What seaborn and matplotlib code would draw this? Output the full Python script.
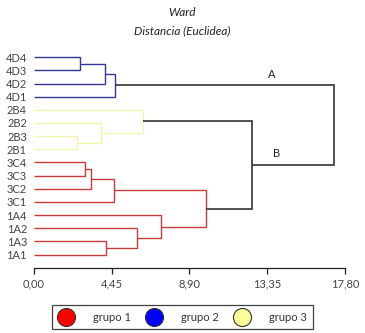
import matplotlib
matplotlib.use("Agg")
import matplotlib.pyplot as plt
from matplotlib.lines import Line2D
import seaborn as sns

# leaves, top to bottom
leaves = ['4D4', '4D3', '4D2', '4D1', '2B4', '2B2', '2B3', '2B1',
          '3C4', '3C3', '3C2', '3C1', '1A4', '1A2', '1A3', '1A1']

# merges (scipy style: new cluster ids start at len(leaves))
merge_a = [0, 16, 17, 6, 5, 4, 8, 22, 23, 14, 13, 12, 24, 21, 18]
merge_b = [1, 2, 3, 7, 19, 20, 9, 10, 11, 15, 25, 26, 27, 28, 29]
merge_h = [2.64, 4.04, 4.65, 2.45, 3.85, 6.24, 2.93, 3.25, 4.59,
           4.13, 5.90, 7.29, 9.82, 12.46, 17.15]
merge_grp = ['g2', 'g2', 'g2', 'g3', 'g3', 'g3', 'g1', 'g1', 'g1',
             'g1', 'g1', 'g1', 'g1', 'top', 'top']

tick_vals = [0, 4.45, 8.90, 13.35, 17.80]
tick_labels = ['0,00', '4,45', '8,90', '13,35', '17,80']

group_names = ['grupo 1', 'grupo 2', 'grupo 3']
group_fill = ['#ff0000', '#0000ff', '#ffff99']
line_col = {'g1': '#c83c3c', 'g2': '#34349c', 'g3': '#f4f4b0', 'top': '#333333'}

sns.set_style("white")
plt.rcParams['font.family'] = ['Lato', 'DejaVu Sans']

fig = plt.figure(figsize=(3.65, 3.33), dpi=100)
ax = fig.add_axes([0.093, 0.196, 0.852, 0.654])

pos = {i: (0.0, float(i)) for i in range(len(leaves))}
n = len(leaves)
for k, (a, b, h, g) in enumerate(zip(merge_a, merge_b, merge_h, merge_grp)):
    ha, ya = pos[a]
    hb, yb = pos[b]
    lw = 1.2 if g == 'top' else 1.0
    ax.plot([ha, h, h, hb], [ya, ya, yb, yb], color=line_col[g], lw=lw,
            solid_joinstyle='miter', solid_capstyle='butt')
    pos[n + k] = (h, (ya + yb) / 2)

# labels A and B
ax.text(13.6, pos[18][1] - 0.8, 'A', ha='center', va='center', fontsize=8, color='#222222')
ax.text(13.9, pos[29][1] - 0.9, 'B', ha='center', va='center', fontsize=8, color='#222222')

ax.set_xlim(0, 17.8)
ax.set_ylim(16.0, -0.55)
ax.set_yticks(range(n))
ax.set_yticklabels(leaves, fontsize=8, color='#444444')
ax.set_xticks(tick_vals)
ax.set_xticklabels(tick_labels, fontsize=8, color='#444444')
ax.tick_params(axis='y', length=0, pad=5)
ax.tick_params(axis='x', length=4, width=0.9, color='#222222', pad=4, bottom=True)
for s in ['top', 'right', 'left']:
    ax.spines[s].set_visible(False)
ax.spines['bottom'].set_color('#222222')
ax.spines['bottom'].set_linewidth(0.9)

fig.text(0.5, 1 - 12 / 333, 'Ward', ha='center', va='center', fontsize=8.5,
         style='italic', color='#222222')
fig.text(0.5, 1 - 31 / 333, 'Distancia (Euclidea)', ha='center', va='center',
         fontsize=8.5, style='italic', color='#222222')

handles = [Line2D([], [], ls='', marker='o', markersize=13, markerfacecolor=c,
                  markeredgecolor='#333333', markeredgewidth=0.8) for c in group_fill]
leg = fig.legend(handles, group_names, ncol=3, loc='upper center',
                 bbox_to_anchor=(0.5, 1 - 305 / 333), borderaxespad=0,
                 frameon=True, fancybox=False,
                 fontsize=8, handletextpad=1.8, columnspacing=1.4,
                 borderpad=0.6, handlelength=1.3)
leg.get_frame().set_edgecolor('#111111')
leg.get_frame().set_linewidth(0.9)
for t in leg.get_texts():
    t.set_color('#333333')

fig.savefig('out.png', dpi=100)
